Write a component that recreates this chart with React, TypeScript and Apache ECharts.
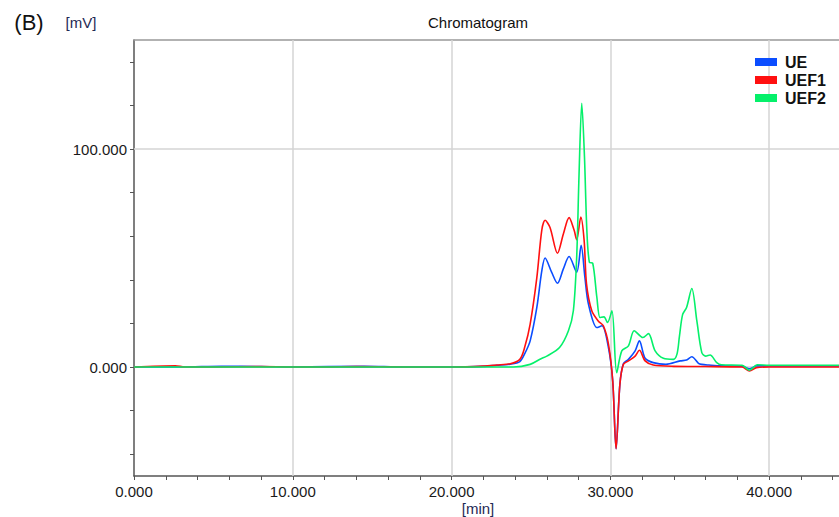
import React, { useEffect, useRef } from "react";
import * as echarts from "echarts";

// Retention time (min) and signal (mV) for each trace
const ueTime = [0, 3, 5.5, 8, 10, 14.5, 17, 20, 22, 22.85, 23.7, 24.3, 24.6, 24.95, 25.37, 25.68, 25.89, 26.3, 26.67, 27.04, 27.4, 27.88, 28.16, 28.4, 28.62, 29.15, 29.47, 29.88, 30.15, 30.36, 30.6, 30.82, 31.14, 31.56, 31.83, 32.19, 32.7, 33.5, 34.4, 34.8, 35.13, 35.55, 35.76, 36.2, 37, 38.3, 38.76, 39.2, 40, 42, 44.4];
const ueValues = [0, 0, 0.3, 0.2, 0, 0.3, 0, 0, 0.3, 0.8, 1.3, 2.5, 6, 12, 27.3, 44, 50, 43.5, 38.4, 45, 50.7, 43.5, 55.8, 41, 28.9, 18.1, 18.9, 8.9, -6.5, -37.5, -8, 1.5, 3.5, 7.4, 12, 4, 2, 1.2, 2.8, 3.2, 4.7, 1.7, 1.2, 0.9, 0.5, 0.4, -0.8, 0.5, 0.5, 0.5, 0.5];

const uef1Time = [0, 2.6, 3.2, 5, 8, 10, 12, 14, 17, 20, 22, 22.85, 23.7, 24.3, 24.6, 24.95, 25.37, 25.68, 25.89, 26.2, 26.67, 27.04, 27.4, 27.72, 27.88, 28.14, 28.35, 28.5, 28.83, 29.25, 29.56, 29.88, 30.15, 30.36, 30.6, 30.82, 31.14, 31.56, 31.83, 32.19, 32.7, 34, 36, 38.3, 38.76, 39.2, 40, 42, 44.4];
const uef1Values = [0, 0.6, 0, 0, 0.2, 0, 0, 0.2, 0, 0, 0.4, 0.9, 1.5, 3.5, 8.9, 19.7, 41, 62.7, 67.3, 64, 52.2, 61, 68.5, 62.7, 58.4, 68.8, 58, 38, 25.8, 21, 18.9, 10.5, -6.5, -37.5, -8, 1.2, 2.8, 5, 7.7, 2.8, 0.9, 0.3, 0.2, 0, -1.8, -0.3, 0, 0, 0];

const uef2Time = [0, 5, 10, 15, 20, 23.9, 24.95, 25.6, 26.0, 26.8, 27.36, 27.67, 27.88, 28.03, 28.2, 28.37, 28.52, 28.68, 28.89, 29.15, 29.35, 29.6, 29.82, 30.1, 30.4, 30.72, 31.14, 31.5, 32.05, 32.4, 32.82, 33.34, 33.97, 34.2, 34.35, 34.55, 34.8, 35.13, 35.45, 35.76, 36.0, 36.28, 36.7, 37, 38.3, 38.76, 39.26, 40, 42, 44.4];
const uef2Values = [0, 0, 0, 0, 0, 0, 1.2, 3.7, 5, 8.9, 16.6, 25.8, 50.4, 88.8, 121, 96.5, 62.7, 48, 47.6, 32, 22.7, 23, 20.4, 25.8, -2.6, 7.4, 9.7, 16.6, 13.5, 15.3, 7.4, 4, 3.5, 6, 14, 24, 27.3, 36, 21, 6.6, 5, 5.5, 2, 1, 0.8, -1.5, 1, 0.8, 0.8, 0.8];

const seriesNames = ["UE", "UEF1", "UEF2"];
const seriesColors = ["#0b4dff", "#ff1010", "#05f06a"];

const xTickValues = [0, 2, 4, 6, 8, 10, 12, 14, 16, 18, 20, 22, 24, 26, 28, 30, 32, 34, 36, 38, 40, 42, 44];
const xLabelValues = [0, 10, 20, 30, 40];
const yTickValues = [-40, -20, 0, 20, 40, 60, 80, 100, 120, 140];
const yLabelValues = [0, 100];
const xGridValues = [10, 20, 30, 40];
const yGridValues = [0, 100];

const zip = (t: number[], v: number[]) => t.map((x, i) => [x, v[i]]);

export default function App() {
  const ref = useRef<HTMLDivElement>(null);
  useEffect(() => {
    document.body.style.margin = "0";
    if (!ref.current) return;
    const chart = echarts.init(ref.current, undefined, { renderer: "svg" });
    const font = "Liberation Sans, Arial, sans-serif";
    const datasets = [zip(ueTime, ueValues), zip(uef1Time, uef1Values), zip(uef2Time, uef2Values)];
    const series: any[] = datasets.map((d, i) => ({
      name: seriesNames[i],
      type: "line",
      xAxisIndex: 0,
      yAxisIndex: 0,
      data: d,
      showSymbol: false,
      smooth: 0.3,
      color: seriesColors[i],
      lineStyle: { width: 1.6, color: seriesColors[i] },
      z: 3,
    }));
    series[0].markLine = {
      silent: true,
      symbol: "none",
      z: 1,
      label: { show: false },
      lineStyle: { color: "#d4d4d4", width: 1.5, type: "solid" },
      emphasis: { disabled: true },
      data: [
        ...xGridValues.map((v) => ({ xAxis: v })),
        ...yGridValues.map((v) => ({ yAxis: v })),
      ],
    };
    chart.setOption({
      animation: false,
      backgroundColor: "#ffffff",
      textStyle: { fontFamily: font },
      grid: { left: 134, right: 0, top: 40, bottom: 41, containLabel: false },
      legend: {
        data: seriesNames.map((n) => ({ name: n, icon: "rect" })),
        orient: "vertical",
        left: 755,
        top: 53,
        padding: 0,
        itemGap: 0,
        itemWidth: 22,
        itemHeight: 8,
        textStyle: { fontSize: 16, fontWeight: "bold", color: "#111", lineHeight: 18, padding: [0, 0, 0, 3], fontFamily: font },
      },
      xAxis: [
        {
          type: "value",
          min: 0,
          max: 44.4,
          position: "bottom",
          axisLine: { show: true, onZero: false, lineStyle: { color: "#555", width: 1.5 } },
          axisTick: { show: true, length: 4, customValues: xTickValues, lineStyle: { color: "#555" } },
          axisLabel: {
            customValues: xLabelValues,
            formatter: (v: number) => v.toFixed(3),
            fontSize: 15,
            color: "#1a1a1a",
            margin: 8,
          },
          splitLine: { show: false },
        },
        {
          type: "value",
          min: 0,
          max: 44.4,
          position: "top",
          axisLine: { show: true, onZero: false, lineStyle: { color: "#999", width: 1.5 } },
          axisTick: { show: false },
          axisLabel: { show: false },
          splitLine: { show: false },
        },
      ],
      yAxis: {
        type: "value",
        min: -50,
        max: 150,
        axisLine: { show: true, onZero: false, lineStyle: { color: "#555", width: 1.5 } },
        axisTick: { show: true, length: 4, customValues: yTickValues, lineStyle: { color: "#555" } },
        axisLabel: {
          customValues: yLabelValues,
          formatter: (v: number) => v.toFixed(3),
          fontSize: 15,
          color: "#1a1a1a",
          margin: 7,
        },
        splitLine: { show: false },
      },
      graphic: [
        { type: "text", x: 29, y: 22, style: { text: "(B)", font: `22px ${font}`, fill: "#111", align: "center", verticalAlign: "middle" } },
        { type: "text", x: 81, y: 22, style: { text: "[mV]", font: `15px ${font}`, fill: "#1f2a55", align: "center", verticalAlign: "middle" } },
        { type: "text", x: 478, y: 22, style: { text: "Chromatogram", font: `15px ${font}`, fill: "#111", align: "center", verticalAlign: "middle" } },
        { type: "text", x: 478, y: 508, style: { text: "[min]", font: `15px ${font}`, fill: "#1f2a55", align: "center", verticalAlign: "middle" } },
      ],
      series,
    });
    return () => chart.dispose();
  }, []);
  return <div ref={ref} style={{ width: 839, height: 517 }} />;
}
